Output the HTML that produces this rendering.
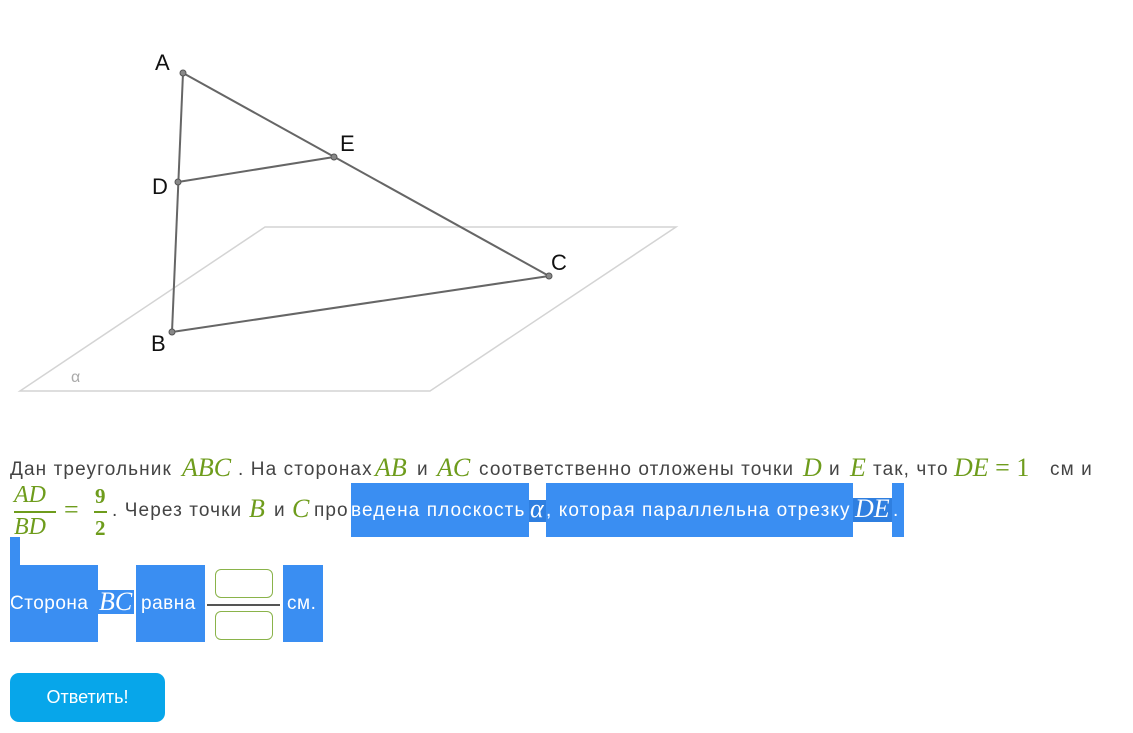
<!DOCTYPE html>
<html><head><meta charset="utf-8"><style>
body{margin:0;width:1133px;height:733px;background:#fff;position:relative;overflow:hidden;font-family:"Liberation Sans",sans-serif;}
.t{position:absolute;font-size:19px;letter-spacing:1.1px;color:#444;white-space:nowrap;line-height:20px;}
.m{position:absolute;font-family:"Liberation Serif",serif;font-style:italic;font-size:26px;color:#6e9c1c;white-space:nowrap;line-height:26px;}
.b{position:absolute;background:#3a8ef2;}
.w{color:#fff;}
.mw{color:#fff;}
</style></head><body>
<svg width="1133" height="420" style="position:absolute;left:0;top:0">
<polygon points="265,227 676,227 430,391 20,391" fill="none" stroke="#d4d4d4" stroke-width="1.5"/>
<g stroke="#666" stroke-width="2" fill="none">
<line x1="183" y1="73" x2="172" y2="332"/>
<line x1="183" y1="73" x2="549" y2="276"/>
<line x1="172" y1="332" x2="549" y2="276"/>
<line x1="178" y1="182" x2="334" y2="157"/>
</g>
<g fill="#888" stroke="#555" stroke-width="1">
<circle cx="183" cy="73" r="3"/><circle cx="178" cy="182" r="3"/><circle cx="172" cy="332" r="3"/><circle cx="334" cy="157" r="3"/><circle cx="549" cy="276" r="3"/>
</g>
<g font-family="Liberation Sans" font-size="22" fill="#111">
<text x="155" y="70">A</text><text x="340" y="151">E</text><text x="152" y="194">D</text><text x="551" y="270">C</text><text x="151" y="351">B</text>
</g>
<text x="71" y="382" font-family="Liberation Sans" font-size="16" fill="#aaa">α</text>
</svg>

<!-- line 1 -->
<div class="t" style="left:10px;top:460px">Дан треугольник</div>
<div class="m" style="left:182px;top:455px">ABC</div>
<div class="t" style="left:238px;top:460px">. На сторонах</div>
<div class="m" style="left:375px;top:455px">AB</div>
<div class="t" style="left:417px;top:460px">и</div>
<div class="m" style="left:437px;top:455px">AC</div>
<div class="t" style="left:479px;top:460px">соответственно отложены точки</div>
<div class="m" style="left:803px;top:455px">D</div>
<div class="t" style="left:829px;top:460px">и</div>
<div class="m" style="left:850px;top:455px">E</div>
<div class="t" style="left:873px;top:460px">так, что</div>
<div class="m" style="left:954px;top:455px">DE <span style="font-style:normal">= 1</span></div>
<div class="t" style="left:1050px;top:460px">см и</div>

<!-- line 2 -->
<div class="m" style="left:14px;top:482px;font-size:24px">AD</div>
<div style="position:absolute;left:14px;top:511px;width:42px;height:1.5px;background:#6e9c1c"></div>
<div class="m" style="left:14px;top:514px;font-size:24px">BD</div>
<div class="m" style="left:64px;top:497px;font-style:normal">=</div>
<div class="m" style="left:95px;top:483px;font-style:normal;font-weight:bold;font-size:21px">9</div>
<div style="position:absolute;left:94px;top:511px;width:13px;height:1.5px;background:#6e9c1c"></div>
<div class="m" style="left:95px;top:515px;font-style:normal;font-weight:bold;font-size:21px">2</div>
<div class="t" style="left:112px;top:501px">. Через точки</div>
<div class="m" style="left:249px;top:496px">B</div>
<div class="t" style="left:274px;top:501px">и</div>
<div class="m" style="left:292px;top:496px">C</div>
<div class="t" style="left:314px;top:501px">про</div>
<div class="b" style="left:351px;top:483px;width:178px;height:54px"></div>
<div class="b" style="left:546px;top:483px;width:307px;height:54px"></div>
<div class="b" style="left:892px;top:483px;width:12px;height:54px"></div>
<div class="b" style="left:529px;top:500px;width:17px;height:22px;background:#2f7fe0"></div>
<div class="b" style="left:853px;top:498px;width:39px;height:24px;background:#2f7fe0"></div>
<div class="t w" style="left:351px;top:501px">ведена плоскость</div>
<div class="m mw" style="left:530px;top:496px">α</div>
<div class="t w" style="left:546px;top:501px">, которая параллельна отрезку</div>
<div class="m mw" style="left:855px;top:496px">DE</div>
<div class="t" style="left:893px;top:501px;color:#fff">.</div>

<!-- line 3 -->
<div class="b" style="left:10px;top:537px;width:10px;height:28px"></div>
<div class="b" style="left:10px;top:565px;width:88px;height:77px"></div>
<div class="b" style="left:98px;top:590px;width:36px;height:24px"></div>
<div class="b" style="left:136px;top:565px;width:69px;height:77px"></div>
<div class="b" style="left:283px;top:565px;width:40px;height:77px"></div>
<div class="t w" style="left:10px;top:594px;letter-spacing:0.5px">Сторона</div>
<div class="m mw" style="left:99px;top:589px">BC</div>
<div class="t w" style="left:141px;top:594px;letter-spacing:0.5px">равна</div>
<div class="t w" style="left:287px;top:594px;letter-spacing:0.5px">см.</div>
<div style="position:absolute;left:215px;top:569px;width:56px;height:27px;border:1.5px solid #8ab34a;border-radius:6px;background:#fff"></div>
<div style="position:absolute;left:207px;top:604px;width:73px;height:1.5px;background:#555"></div>
<div style="position:absolute;left:215px;top:611px;width:56px;height:27px;border:1.5px solid #8ab34a;border-radius:6px;background:#fff"></div>

<div style="position:absolute;left:10px;top:673px;width:155px;height:49px;background:#07a6ea;border-radius:9px;color:#fff;font-size:18px;text-align:center;line-height:49px;font-family:'Liberation Sans',sans-serif">Ответить!</div>
</body></html>
